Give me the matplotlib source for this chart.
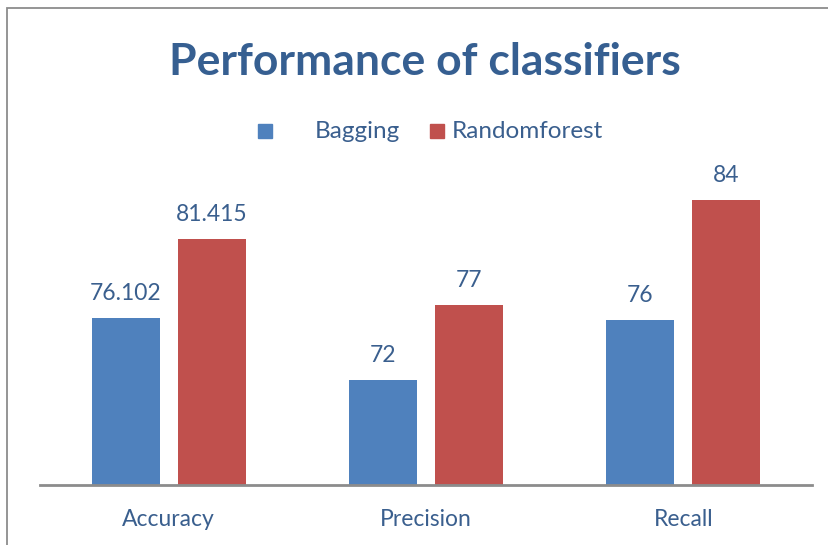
import matplotlib
matplotlib.use("Agg")
import matplotlib.pyplot as plt
from matplotlib.patches import Rectangle
import numpy as np

categories = ["Accuracy", "Precision", "Recall"]
series_names = ["Bagging", "Randomforest"]
bagging = [76.102, 72, 76]
randomforest = [81.415, 77, 84]
bagging_labels = ["76.102", "72", "76"]
rf_labels = ["81.415", "77", "84"]

blue = "#4F81BD"
red = "#C0504D"
txt = "#3A5F8E"
font = ["Lato", "DejaVu Sans"]

W, H = 829, 545
fig = plt.figure(figsize=(W / 100, H / 100), dpi=100)
fig.patch.set_facecolor("white")

# outer frame
fig.patches.append(Rectangle((7 / W, -0.1), 1.2, 1 - 8 / H + 0.1, transform=fig.transFigure,
                             fill=False, edgecolor="#8C8C8C", linewidth=1.3))

ax = fig.add_axes([40 / W, 1 - 485 / H, (812 - 40) / W, (485 - 160) / H])
x = np.arange(len(categories))
bw = 0.265
off = 0.167
b1 = ax.bar(x - off, bagging, bw, color=blue)
b2 = ax.bar(x + off, randomforest, bw, color=red)
ax.set_ylim(65, 65 + 325 / 15)
ax.set_xlim(-0.5, 2.5)

for bars, labels in [(b1, bagging_labels), (b2, rf_labels)]:
    for rect, lab in zip(bars, labels):
        ax.text(rect.get_x() + rect.get_width() / 2, rect.get_height() + 0.95, lab,
                ha="center", va="bottom", fontsize=16.5, color=txt, family=font)

for s in ["top", "right", "left"]:
    ax.spines[s].set_visible(False)
ax.spines["bottom"].set_color("#8C8C8C")
ax.spines["bottom"].set_linewidth(2)
ax.set_yticks([])
ax.set_xticks(x)
ax.set_xticklabels(categories, fontsize=16.5, color=txt, family=font)
ax.tick_params(axis="x", length=0, pad=17)

fig.text(425 / W, 1 - 62 / H, "Performance of classifiers", ha="center", va="center",
         fontsize=32, fontweight="bold", color="#365F91", family=font)

# legend
for (x0, name, tx, col) in [(258, "Bagging", 315, blue), (430, "Randomforest", 452, red)]:
    fig.patches.append(Rectangle((x0 / W, 1 - 138 / H), 14 / W, 14 / H,
                                 transform=fig.transFigure, color=col))
    fig.text(tx / W, 1 - 131 / H, name, ha="left", va="center", fontsize=17.5,
             color=txt, family=font)

fig.savefig("out.png", dpi=100)
